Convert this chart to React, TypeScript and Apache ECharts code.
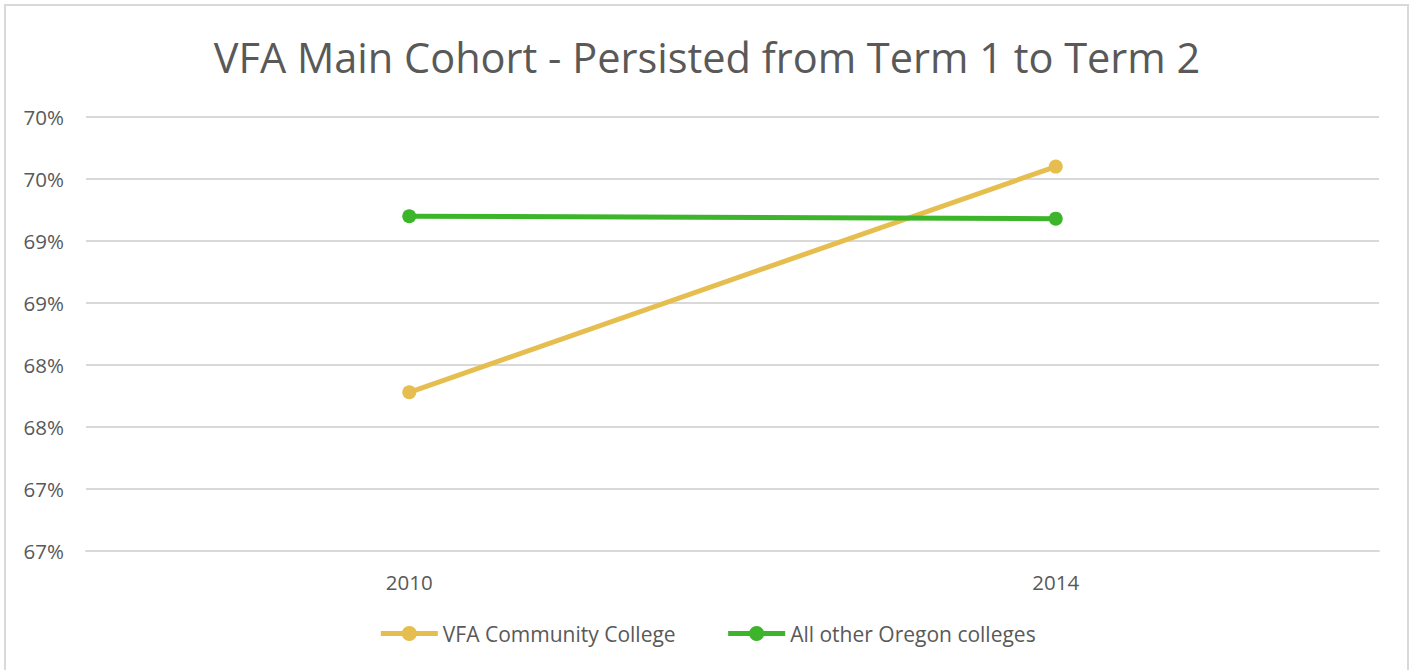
import React, { useEffect, useRef } from "react";
import * as echarts from "echarts";

const categories = ["2010", "2014"];
const vfaValues = [67.78, 69.6];
const otherValues = [69.2, 69.18];
const seriesNames = ["VFA Community College", "All other Oregon colleges"];
const titleText = "VFA Main Cohort - Persisted from Term 1 to Term 2";

const FONT = "'Open Sans', 'Noto Sans', sans-serif";
const TEXT = "#595959";

export default function App() {
  const ref = useRef<HTMLDivElement>(null);
  useEffect(() => {
    if (!ref.current) return;
    const chart = echarts.init(ref.current, undefined, { renderer: "svg" });
    chart.setOption({
      animation: false,
      backgroundColor: "#ffffff",
      textStyle: { fontFamily: FONT },
      title: {
        text: titleText,
        left: "center",
        top: 31,
        textStyle: { fontFamily: FONT, fontSize: 41.5, fontWeight: "normal", color: TEXT },
      },
      graphic: [
        {
          type: "rect",
          shape: { x: 5, y: 5, width: 1403, height: 680 },
          style: { fill: "none", stroke: "#d9d9d9", lineWidth: 2 },
          silent: true,
        },
      ],
      grid: { left: 86, right: 35, top: 117, bottom: 119, containLabel: false },
      xAxis: {
        type: "category",
        data: categories,
        boundaryGap: true,
        axisLine: { lineStyle: { color: "#d9d9d9", width: 2 } },
        axisTick: { show: false },
        axisLabel: { color: TEXT, fontSize: 20.5, margin: 20, fontFamily: FONT },
      },
      yAxis: {
        type: "value",
        min: 66.5,
        max: 70,
        interval: 0.5,
        axisLine: { show: false },
        axisTick: { show: false },
        axisLabel: {
          color: TEXT,
          fontSize: 20.5,
          margin: 22,
          fontFamily: FONT,
          formatter: (v: number) => Math.round(v) + "%",
        },
        splitLine: { lineStyle: { color: "#d9d9d9", width: 2 } },
      },
      legend: {
        top: 618,
        left: "center",
        itemWidth: 57,
        itemHeight: 19,
        itemGap: 50,
        lineStyle: { width: 5 },
        textStyle: { color: TEXT, fontSize: 21, fontFamily: FONT },
        data: seriesNames,
      },
      series: [
        {
          name: seriesNames[0],
          type: "line",
          data: vfaValues,
          symbol: "circle",
          symbolSize: 14,
          lineStyle: { color: "#e6be50", width: 5 },
          itemStyle: { color: "#e6be50" },
        },
        {
          name: seriesNames[1],
          type: "line",
          data: otherValues,
          symbol: "circle",
          symbolSize: 14,
          lineStyle: { color: "#3cb52a", width: 5 },
          itemStyle: { color: "#3cb52a" },
        },
      ],
    });
    return () => chart.dispose();
  }, []);
  return (
    <div
      ref={ref}
      style={{ position: "fixed", left: 0, top: 0, width: 1414, height: 670 }}
    />
  );
}
